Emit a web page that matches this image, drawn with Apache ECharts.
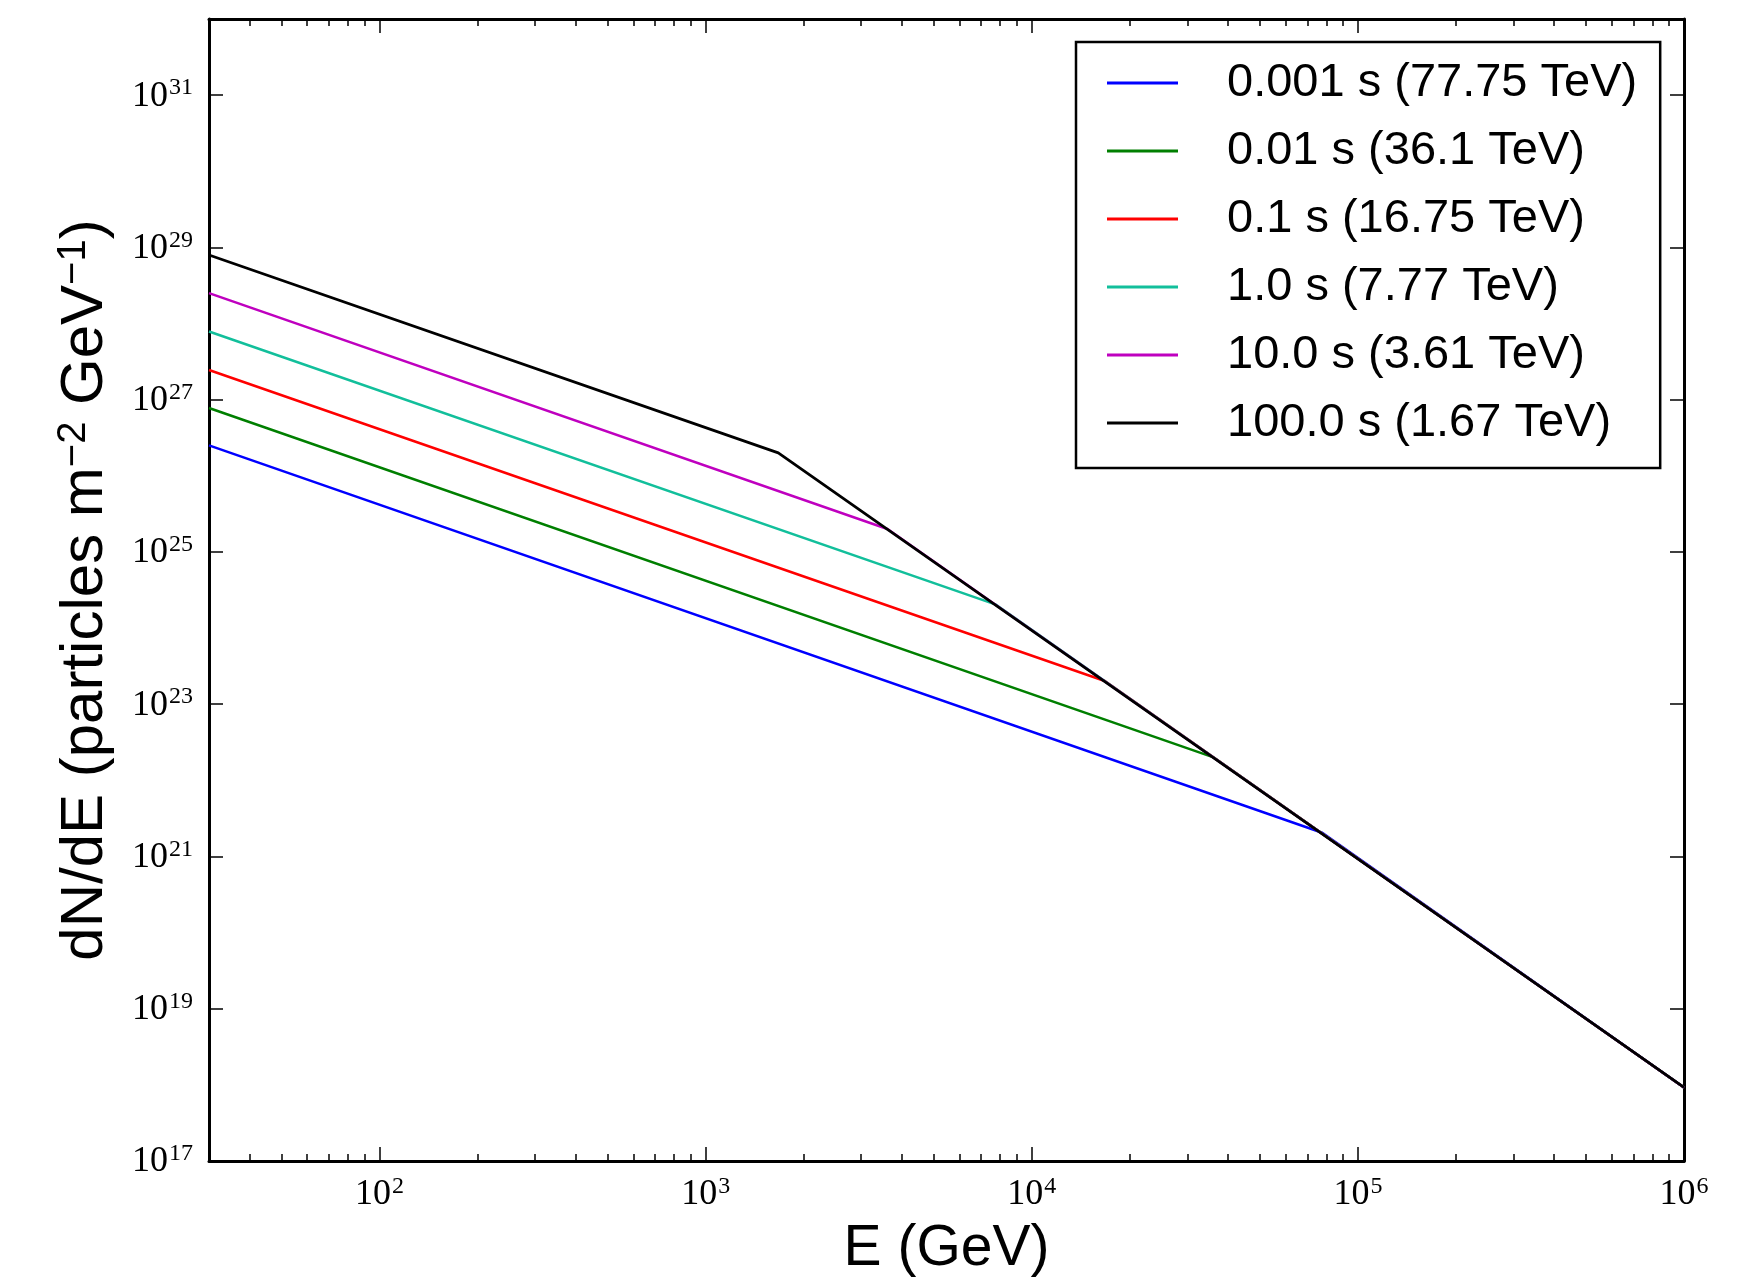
<!DOCTYPE html>
<html>
<head>
<meta charset="utf-8">
<script src="https://cdn.jsdelivr.net/npm/echarts@6/dist/echarts.min.js"></script>
<style>
html,body{margin:0;padding:0;background:#fff;}
#chart{width:1748px;height:1283px;}
</style>
</head>
<body>
<div id="chart"></div>
<script>
// ---- data ----
const seriesNames = [
  '0.001 s (77.75 TeV)',
  '0.01 s (36.1 TeV)',
  '0.1 s (16.75 TeV)',
  '1.0 s (7.77 TeV)',
  '10.0 s (3.61 TeV)',
  '100.0 s (1.67 TeV)'
];
const seriesColors = ['#0000ff', '#007f00', '#ff0000', '#12bf9b', '#bf00bf', '#000000'];
const energyStart = 30;          // GeV, left edge of the curves
const energyEnd = 1e6;           // GeV, right edge of the curves
const breakEnergy = [77750, 36100, 16750, 7770, 3610, 1670];          // GeV
const fluxAtStart = [2.51e26, 7.76e26, 2.45e27, 7.85e27, 2.51e28, 7.94e28];
const fluxAtBreak = [2.05e21, 2.0e22, 2.02e23, 2.03e24, 2.0e25, 2.0e26];
const fluxAtEnd = [9.25e17, 9.25e17, 9.25e17, 9.25e17, 9.25e17, 9.25e17];

const xMajorTicks = [1e2, 1e3, 1e4, 1e5, 1e6];
const yMajorTicks = [1e17, 1e19, 1e21, 1e23, 1e25, 1e27, 1e29, 1e31];
const xMinorTicks = [];
[1e1, 1e2, 1e3, 1e4, 1e5].forEach(function (d) {
  [2, 3, 4, 5, 6, 7, 8, 9].forEach(function (m) {
    const v = d * m;
    if (v > 30 && v < 1e6) xMinorTicks.push(v);
  });
});

// ---- chart ----
const chart = echarts.init(document.getElementById('chart'), null, {renderer: 'canvas'});

const serifFont = '"Liberation Serif", "DejaVu Serif", serif';
const sansFont = '"Liberation Sans", Arial, Helvetica, sans-serif';
const powLabel = function (v) {
  const e = Math.round(Math.log10(v));
  return '{b|10}{s|' + e + '}';
};
const labelRich = {
  b: {fontFamily: serifFont, fontSize: 36, color: '#000', lineHeight: 38, verticalAlign: 'bottom'},
  s: {fontFamily: serifFont, fontSize: 24, color: '#000', lineHeight: 38, verticalAlign: 'top', padding: [0, 0, 15, 1]}
};

const gridPos = {left: 209, right: 64, top: 19, bottom: 122};

function xAxisCfg(pos, ticks, len, showLine, showLabel, name) {
  return {
    type: 'log', logBase: 10, position: pos, min: 30, max: 1e6,
    gridIndex: 0,
    name: name || '',
    nameLocation: 'middle', nameGap: 60,
    nameTextStyle: {fontFamily: sansFont, fontSize: 57, color: '#000'},
    axisLine: {show: showLine, onZero: false, lineStyle: {color: '#000', width: 3}},
    axisTick: {show: true, inside: true, length: len, customValues: ticks, lineStyle: {color: '#000', width: 1.5}},
    axisLabel: {show: showLabel, customValues: ticks, margin: 14, formatter: powLabel, rich: labelRich},
    splitLine: {show: false}, minorTick: {show: false}
  };
}
function yAxisCfg(pos, showLabel, name) {
  return {
    type: 'log', logBase: 10, position: pos, min: 1e17, max: 1e32,
    gridIndex: 0,
    name: name || '',
    nameLocation: 'middle', nameGap: 93, nameRotate: 90,
    nameTextStyle: {
      fontFamily: sansFont, fontSize: 60, color: '#000',
      rich: {
        sup: {fontFamily: sansFont, fontSize: 40, color: '#000', verticalAlign: 'top', lineHeight: 62, padding: [0, 0, 24, 0]}
      }
    },
    axisLine: {show: true, onZero: false, lineStyle: {color: '#000', width: 3}},
    axisTick: {show: true, inside: true, length: 14, customValues: yMajorTicks, lineStyle: {color: '#000', width: 1.5}},
    axisLabel: {show: showLabel, customValues: yMajorTicks, margin: 16, formatter: powLabel, rich: labelRich},
    splitLine: {show: false}, minorTick: {show: false}
  };
}

const series = seriesNames.map(function (n, i) {
  return {
    name: n, type: 'line', xAxisIndex: 0, yAxisIndex: 0,
    showSymbol: false, symbol: 'none', animation: false,
    lineStyle: {color: seriesColors[i], width: i === 5 ? 2.8 : 2.5},
    itemStyle: {color: seriesColors[i]},
    data: [
      [energyStart, fluxAtStart[i]],
      [breakEnergy[i], fluxAtBreak[i]],
      [energyEnd, fluxAtEnd[i]]
    ]
  };
});

chart.setOption({
  backgroundColor: '#ffffff',
  animation: false,
  grid: gridPos,
  xAxis: [
    xAxisCfg('bottom', xMajorTicks, 14, true, true, 'E (GeV)'),
    xAxisCfg('bottom', xMinorTicks, 7, false, false),
    xAxisCfg('top', xMajorTicks, 14, true, false),
    xAxisCfg('top', xMinorTicks, 7, false, false)
  ],
  yAxis: [
    yAxisCfg('left', true, 'dN/dE (particles m{sup|\u22122} GeV{sup|\u22121})'),
    yAxisCfg('right', false)
  ],
  legend: {
    show: true, orient: 'vertical',
    left: 1076, top: 42,
    data: seriesNames,
    icon: 'rect', itemWidth: 71, itemHeight: 3, itemGap: 18,
    padding: [16, 23, 20, 31],
    borderColor: '#000', borderWidth: 2.5, borderRadius: 0,
    backgroundColor: '#fff',
    textStyle: {fontFamily: sansFont, fontSize: 47, color: '#000', lineHeight: 50, padding: [0, 0, 0, 44]}
  },
  series: series
});
</script>
</body>
</html>
